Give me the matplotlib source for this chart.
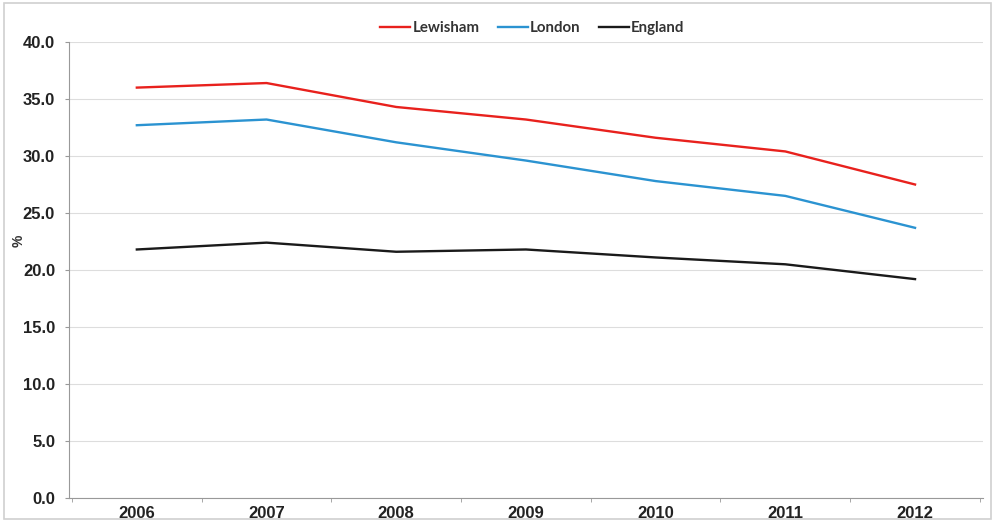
import matplotlib
matplotlib.use('Agg')
import matplotlib.pyplot as plt
from matplotlib.patches import Rectangle

years = ['2006', '2007', '2008', '2009', '2010', '2011', '2012']
lewisham = [36.0, 36.4, 34.3, 33.2, 31.6, 30.4, 27.5]
london = [32.7, 33.2, 31.2, 29.6, 27.8, 26.5, 23.7]
england = [21.8, 22.4, 21.6, 21.8, 21.1, 20.5, 19.2]

plt.rcParams['font.family'] = ['Liberation Sans', 'DejaVu Sans']

fig = plt.figure(figsize=(9.95, 5.21), dpi=100)
ax = fig.add_axes([69 / 995, 23 / 521, 914 / 995, 456 / 521])

# light frame around the whole picture
fig.patches.append(Rectangle((0.004, 0.004), 0.992, 0.99, transform=fig.transFigure,
                             fill=False, edgecolor='#d0d0d0', linewidth=1.2))

x = list(range(len(years)))
ax.plot(x, lewisham, color='#e8211d', linewidth=1.7, label='Lewisham')
ax.plot(x, london, color='#2b93d1', linewidth=1.7, label='London')
ax.plot(x, england, color='#1a1a1a', linewidth=1.7, label='England')

ax.set_xlim(-0.523, 6.524)
ax.set_ylim(0, 40)
ax.set_yticks([i * 5.0 for i in range(9)])
ax.set_yticklabels(['%.1f' % (i * 5.0) for i in range(9)], fontsize=12, fontweight='bold',
                   color='#222222')
ax.set_xticks(x)
ax.set_xticklabels(years, fontsize=12, fontweight='bold', color='#222222')
ax.set_xticks([i + 0.5 for i in range(-1, len(years))], minor=True)
ax.tick_params(axis='x', which='major', length=0, pad=6)
ax.tick_params(axis='x', which='minor', length=3, color='#999999')
ax.tick_params(axis='y', length=3, color='#999999', pad=7)

ax.grid(axis='y', color='#dddddd', linewidth=0.8)
ax.set_axisbelow(True)
for side in ['top', 'right']:
    ax.spines[side].set_visible(False)
for side in ['left', 'bottom']:
    ax.spines[side].set_color('#999999')

# y axis title sits close to the tick labels
fig.text(19 / 995, 1 - 241 / 521, '%', fontsize=10, fontweight='bold', rotation=90,
         ha='center', va='center', color='#333333')

leg = fig.legend(loc='upper center', bbox_to_anchor=(0.535, 0.986), ncol=3, frameon=False,
                 prop={'family': 'Lato', 'size': 10.8, 'weight': 'bold'}, handlelength=2.0,
                 handletextpad=0.15, columnspacing=1.2)
for t in leg.get_texts():
    t.set_color('#333333')

fig.savefig('out.png', dpi=100)
